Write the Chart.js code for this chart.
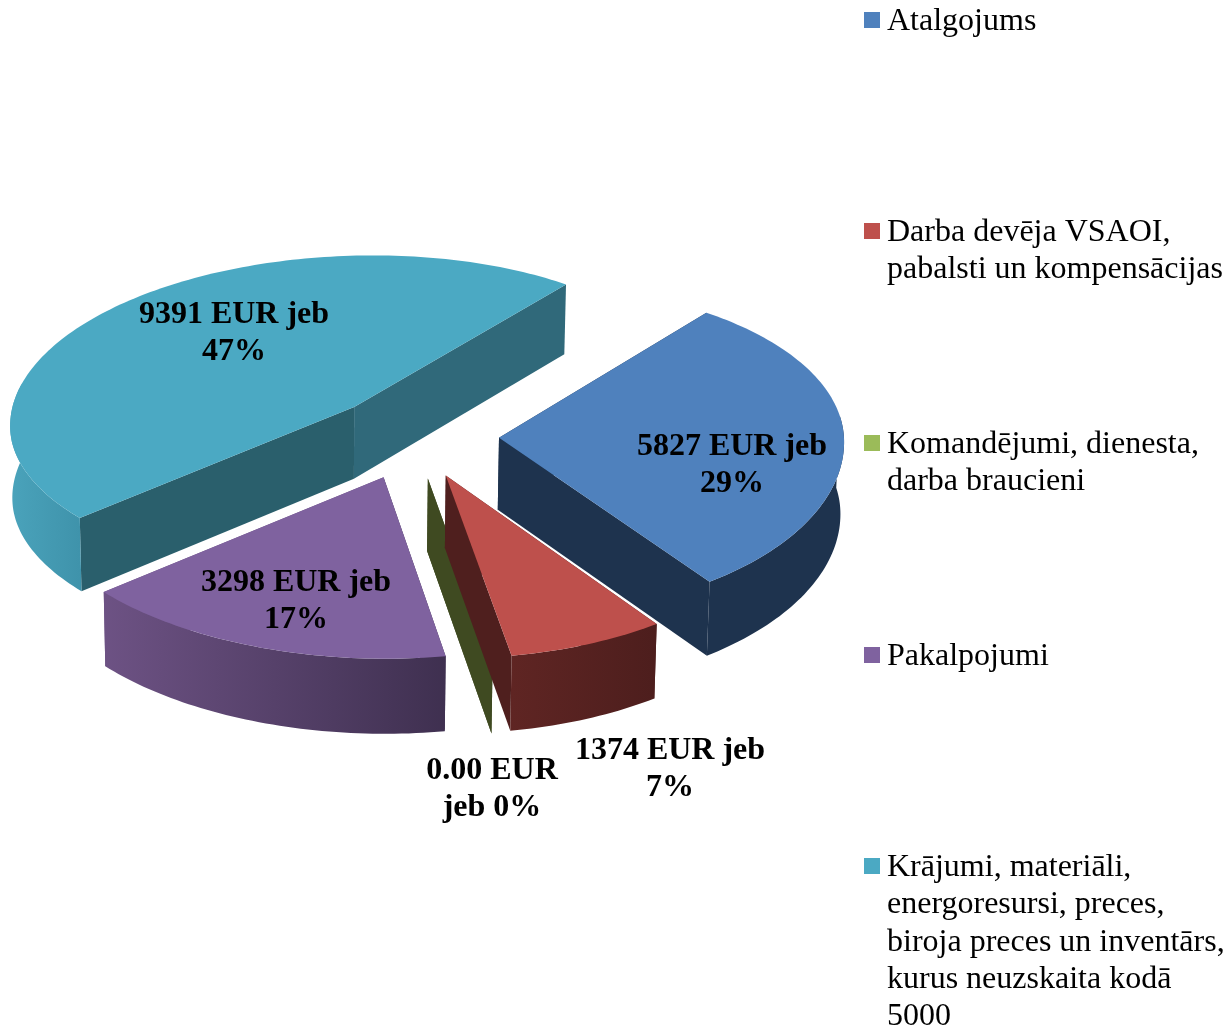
<!DOCTYPE html>
<html>
<head>
<meta charset="utf-8">
<style>html,body{margin:0;padding:0;background:#fff}canvas{display:block}</style>
<script src="https://cdn.jsdelivr.net/npm/chart.js@4"></script>
</head>
<body>
<canvas id="c" width="1227" height="1028"></canvas>
<script>
// ---- data ----
const categories = [
  ["Atalgojums"],
  ["Darba devēja VSAOI,", "pabalsti un kompensācijas"],
  ["Komandējumi, dienesta,", "darba braucieni"],
  ["Pakalpojumi"],
  ["Krājumi, materiāli,", "energoresursi, preces,", "biroja preces un inventārs,", "kurus neuzskaita kodā", "5000"]
];
const values = [5827, 1374, 0, 3298, 9391];
const percents = [29, 7, 0, 17, 47];

// ---- styles ----
const topColors = ["#4F81BD", "#BE504C", "#9BBB59", "#7F629F", "#4BA9C3"];
const wallStart = ["#1E334E", "#4F1F1E", "#3F4A21", "#3F3050", "#2A5F6C"];
const wallEnd   = ["#1E334E", "#4F1F1E", "#3F4A21", "#6D5284", "#30697A"];
const rimStops  = [["#1E334E", "#1E334E"], ["#5F2523", "#4D1E1D"], ["#3F4A21", "#3F4A21"], ["#6D5284", "#3F3050"], ["#4AA3BB", "#3F93AB"]];
const explode = [340, 340, 340, 340, 340];
const sliceLift = [0, 0, 0, 0, -4];
const sliceShift = [1, 0, 0, 0, 1];
const labelLines = [
  ["5827 EUR jeb", "29%"],
  ["1374 EUR jeb", "7%"],
  ["0.00 EUR", "jeb 0%"],
  ["3298 EUR jeb", "17%"],
  ["9391 EUR jeb", "47%"]
];
const labelAnchor = [[732, 445], [670, 749], [492, 769], [296, 581], [234, 313]];
const legendRowY = [20, 231, 443, 655, 866];
const paintOrder = [4, 0, 3, 2, 1];

// ---- projection of the pie plane ----
const VX = 700, PX = 0.058, PY = 0.065, SQUASH = 0.478, DEPTH = 72, SKEW = 0.025;
function project(px, py, cx, cy, R, down, lift, shift) {
  const dy = py - cy;
  const v = dy / R;
  const wx = 1 / (1 - PX * v), w = 1 / (1 - PY * v);
  let X = VX + (px - VX) * wx + shift;
  let Y = cy + SQUASH * dy * w + lift;
  if (v > 0) Y += SKEW * (X - 400) * v;
  if (down) {
    Y += DEPTH * Math.sqrt(w);
    X = 322 + (X - 322) * 0.993;
  }
  return [X, Y];
}
function pathOf(ctx, pts) {
  ctx.beginPath();
  pts.forEach((p, i) => i ? ctx.lineTo(p[0], p[1]) : ctx.moveTo(p[0], p[1]));
  ctx.closePath();
}

const pie3d = {
  id: "pie3d",
  beforeDatasetDraw(chart, args) {
    const ctx = chart.ctx;
    const arcs = chart.getDatasetMeta(args.index).data;
    paintOrder.forEach(i => {
      const el = arcs[i];
      const R = el.outerRadius, cx = el.x, cy = el.y;
      const a0 = el.startAngle, a1 = el.endAngle, mid = (a0 + a1) / 2;
      const off = (el.options.offset || 0) / 4;
      const ax = cx + Math.cos(mid) * off, ay = cy + Math.sin(mid) * off;
      const pr = (x, y, d) => project(x, y, cx, cy, R, d, sliceLift[i], sliceShift[i]);
      const rim = [];
      const N = Math.max(2, Math.ceil((a1 - a0) / 0.02));
      for (let k = 0; k <= N; k++) {
        const t = a0 + (a1 - a0) * k / N;
        rim.push({ t, x: ax + Math.cos(t) * R, y: ay + Math.sin(t) * R });
      }
      const apexT = pr(ax, ay, false), apexB = pr(ax, ay, true);
      const first = rim[0], last = rim[rim.length - 1];

      // radial walls
      const radial = (p, col) => {
        pathOf(ctx, [apexT, pr(p.x, p.y, false), pr(p.x, p.y, true), apexB]);
        ctx.fillStyle = col; ctx.fill();
      };
      radial(first, wallStart[i]);
      radial(last, wallEnd[i]);

      // rim wall (front part only, tucked slightly behind the widest point)
      const front = rim.filter(p => Math.sin(p.t) >= -0.15);
      if (front.length > 1) {
        const topPts = front.map(p => pr(p.x, p.y, false));
        const botPts = front.map(p => pr(p.x, p.y, true)).reverse();
        const xs = topPts.map(p => p[0]);
        const g = ctx.createLinearGradient(Math.min(...xs), 0, Math.max(...xs), 0);
        g.addColorStop(0, rimStops[i][0]);
        g.addColorStop(1, rimStops[i][1]);
        pathOf(ctx, topPts.concat(botPts));
        ctx.fillStyle = g; ctx.fill();
      }

      // top face
      if (a1 > a0) {
        pathOf(ctx, [apexT].concat(rim.map(p => pr(p.x, p.y, false))));
        ctx.fillStyle = el.options.backgroundColor;
        ctx.fill();
      }
    });
    return false;
  },
  afterDatasetsDraw(chart) {
    const ctx = chart.ctx;
    ctx.save();
    // value labels
    ctx.fillStyle = "#000";
    ctx.textAlign = "center";
    ctx.textBaseline = "alphabetic";
    ctx.font = "bold 32px 'Liberation Serif'";
    labelLines.forEach((lines, i) => {
      lines.forEach((s, j) => ctx.fillText(s, labelAnchor[i][0], labelAnchor[i][1] + 10 + j * 37.3));
    });
    // legend
    ctx.textAlign = "left";
    ctx.font = "32px 'Liberation Serif'";
    categories.forEach((lines, i) => {
      const y = legendRowY[i];
      ctx.fillStyle = topColors[i];
      ctx.fillRect(864, y - 8, 16, 16);
      ctx.fillStyle = "#000";
      lines.forEach((s, j) => ctx.fillText(s, 887, y + 10 + j * 37.3));
    });
    ctx.restore();
  }
};

new Chart(document.getElementById("c"), {
  type: "pie",
  data: {
    labels: categories.map(c => c.join(" ")),
    datasets: [{
      data: values,
      backgroundColor: topColors,
      borderWidth: 0,
      offset: explode
    }]
  },
  options: {
    responsive: false,
    animation: false,
    rotation: 37,
    radius: 345,
    layout: { padding: { left: 68, right: 469, top: 93, bottom: 245 } },
    plugins: { legend: { display: false }, tooltip: { enabled: false } }
  },
  plugins: [pie3d]
});
</script>
</body>
</html>
